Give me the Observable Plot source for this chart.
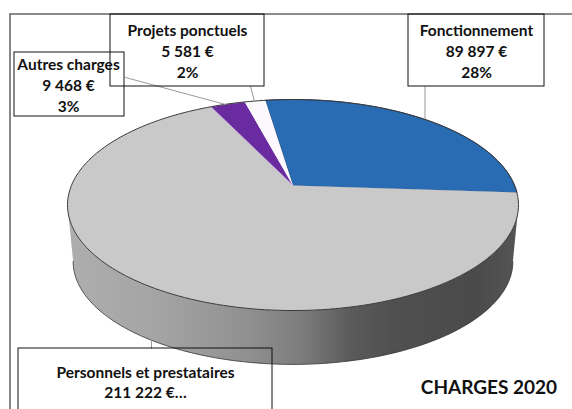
<!DOCTYPE html>
<html><head><meta charset="utf-8">
<script src="https://cdn.jsdelivr.net/npm/d3@7"></script>
<script src="https://cdn.jsdelivr.net/npm/@observablehq/plot@0.6"></script>
<style>html,body{margin:0;padding:0;background:#fff;overflow:hidden}svg{display:block}</style>
</head><body><div id="chart"></div>
<script>
const categories = ["Fonctionnement", "Personnels et prestataires", "Autres charges", "Projets ponctuels"];
const values = [89897, 211222, 9468, 5581];
const sliceColors = ["#2a6cb4", "#c9c9c9", "#6a2aa0", "#fbf9fd"];
const labels = ["Fonctionnement\n89 897 €\n28%", "Personnels et prestataires\n211 222 €…", "Autres charges\n9 468 €\n3%", "Projets ponctuels\n5 581 €\n2%"];
const title = "CHARGES 2020";

const W = 572, H = 409;
const cx = 292.5, cy = 185, R = 221.6, S = 101.9, k = 0.185, startDeg = -8.5;
const project = (deg, scale = 1, dy = 0) => {
  const t = deg * Math.PI / 180, u = Math.sin(t), v = Math.cos(t), w = 1 + k * v;
  return {x: cx + scale * R * u / w, y: cy + dy - scale * S * v / w};
};
const total = d3.sum(values);
let acc = startDeg;
const slices = values.map((v, i) => {
  const a0 = acc, a1 = acc + v / total * 360; acc = a1;
  const pts = [{x: cx, y: cy}, ...d3.range(0, 61).map(j => project(a0 + (a1 - a0) * j / 60))];
  return pts.map(p => ({...p, name: categories[i]}));
}).flat();
const sweep = 360;
const rim = d3.range(0, 241).map(j => project(j * sweep / 240));
const ext = Math.acos(-k) * 180 / Math.PI;
const wall = [
  ...d3.range(0, 121).map(j => project(ext + (360 - 2 * ext) * j / 120)),
  ...d3.range(120, -1, -1).map(j => project(ext + (360 - 2 * ext) * j / 120, 0.975, 57))
];
const wallEdge = d3.range(0, 121).map(j => project(ext + (360 - 2 * ext) * j / 120, 0.975, 57));

const boxes = [
  {x1: 408, x2: 544, y1: 14, y2: 86},
  {x1: 18, x2: 272, y1: 348, y2: 412},
  {x1: 14, x2: 124, y1: 52, y2: 116},
  {x1: 110, x2: 264, y1: 14, y2: 86}
];
const labelPos = [{x: 476, y: 50}, {x: 145, y: 381}, {x: 68, y: 84}, {x: 187, y: 50}];
const leaders = [
  [{x: 424.5, y: 86}, {x: 424.5, y: 118}],
  [{x: 151, y: 339}, {x: 151, y: 348}],
  [{x: 125, y: 77}, {x: 225, y: 104}],
  [{x: 250, y: 86}, {x: 254, y: 101}]
].flatMap((l, i) => l.map(p => ({...p, i})));
const gradient = () => {
  const d = d3.create("svg:defs");
  const g = d.append("linearGradient").attr("id", "wall").attr("x1", 0).attr("x2", 1).attr("y1", 0).attr("y2", 0);
  [[0, "#aeaeae"], [0.2, "#a4a4a4"], [0.4, "#909090"], [0.52, "#7c7c7c"], [0.63, "#5a5a5a"], [0.72, "#505050"], [0.9, "#4a4a4a"], [1, "#555"]]
    .forEach(([o, c]) => g.append("stop").attr("offset", o).attr("stop-color", c));
  return d.node();
};
const font = "Lato, Carlito, sans-serif";
const chart = Plot.plot({
  width: W, height: H, margin: 0,
  x: {domain: [0, W], range: [0, W], axis: null},
  y: {domain: [0, H], range: [0, H], axis: null},
  marks: [
    gradient,
    Plot.line([{x: 9.5, y: 409}, {x: 9.5, y: 13.5}], {x: "x", y: "y", stroke: "#111", strokeWidth: 1}),
    Plot.line([{x: 9.5, y: 13.5}, {x: 572, y: 13.5}], {x: "x", y: "y", stroke: "#666", strokeWidth: 1.3}),
    Plot.line(wall, {x: "x", y: "y", fill: "url(#wall)", stroke: "none", curve: "linear-closed"}),
    Plot.line(wallEdge, {x: "x", y: "y", stroke: "#333", strokeWidth: 0.8}),
    ...categories.map((c, i) => Plot.line(slices.filter(d => d.name === c), {
      x: "x", y: "y", fill: sliceColors[i], curve: "linear-closed",
      stroke: i === 0 ? "#1f3f6a" : i === 2 ? "#c9b8dc" : "none", strokeWidth: 0.8
    })),
    Plot.line(rim, {x: "x", y: "y", stroke: "#3a3a3a", strokeWidth: 1, curve: "linear-closed"}),
    Plot.line(leaders, {x: "x", y: "y", z: "i", stroke: "#999", strokeWidth: 1}),
    Plot.rect(boxes, {x1: "x1", x2: "x2", y1: "y1", y2: "y2", fill: "none", stroke: "#111", strokeWidth: 1}),
    Plot.text(labels, {
      x: (d, i) => labelPos[i].x, y: (d, i) => labelPos[i].y, text: d => d,
      fontFamily: font, fontWeight: 700, fontSize: 15.5, lineHeight: 1.33, fill: "#111", textAnchor: "middle"
    }),
    Plot.text([title], {x: [488.5], y: [387], text: d => d, fontFamily: font, fontWeight: 700, fontSize: 19, fill: "#111", textAnchor: "middle"})
  ]
});
document.getElementById("chart").append(chart);
</script></body></html>
